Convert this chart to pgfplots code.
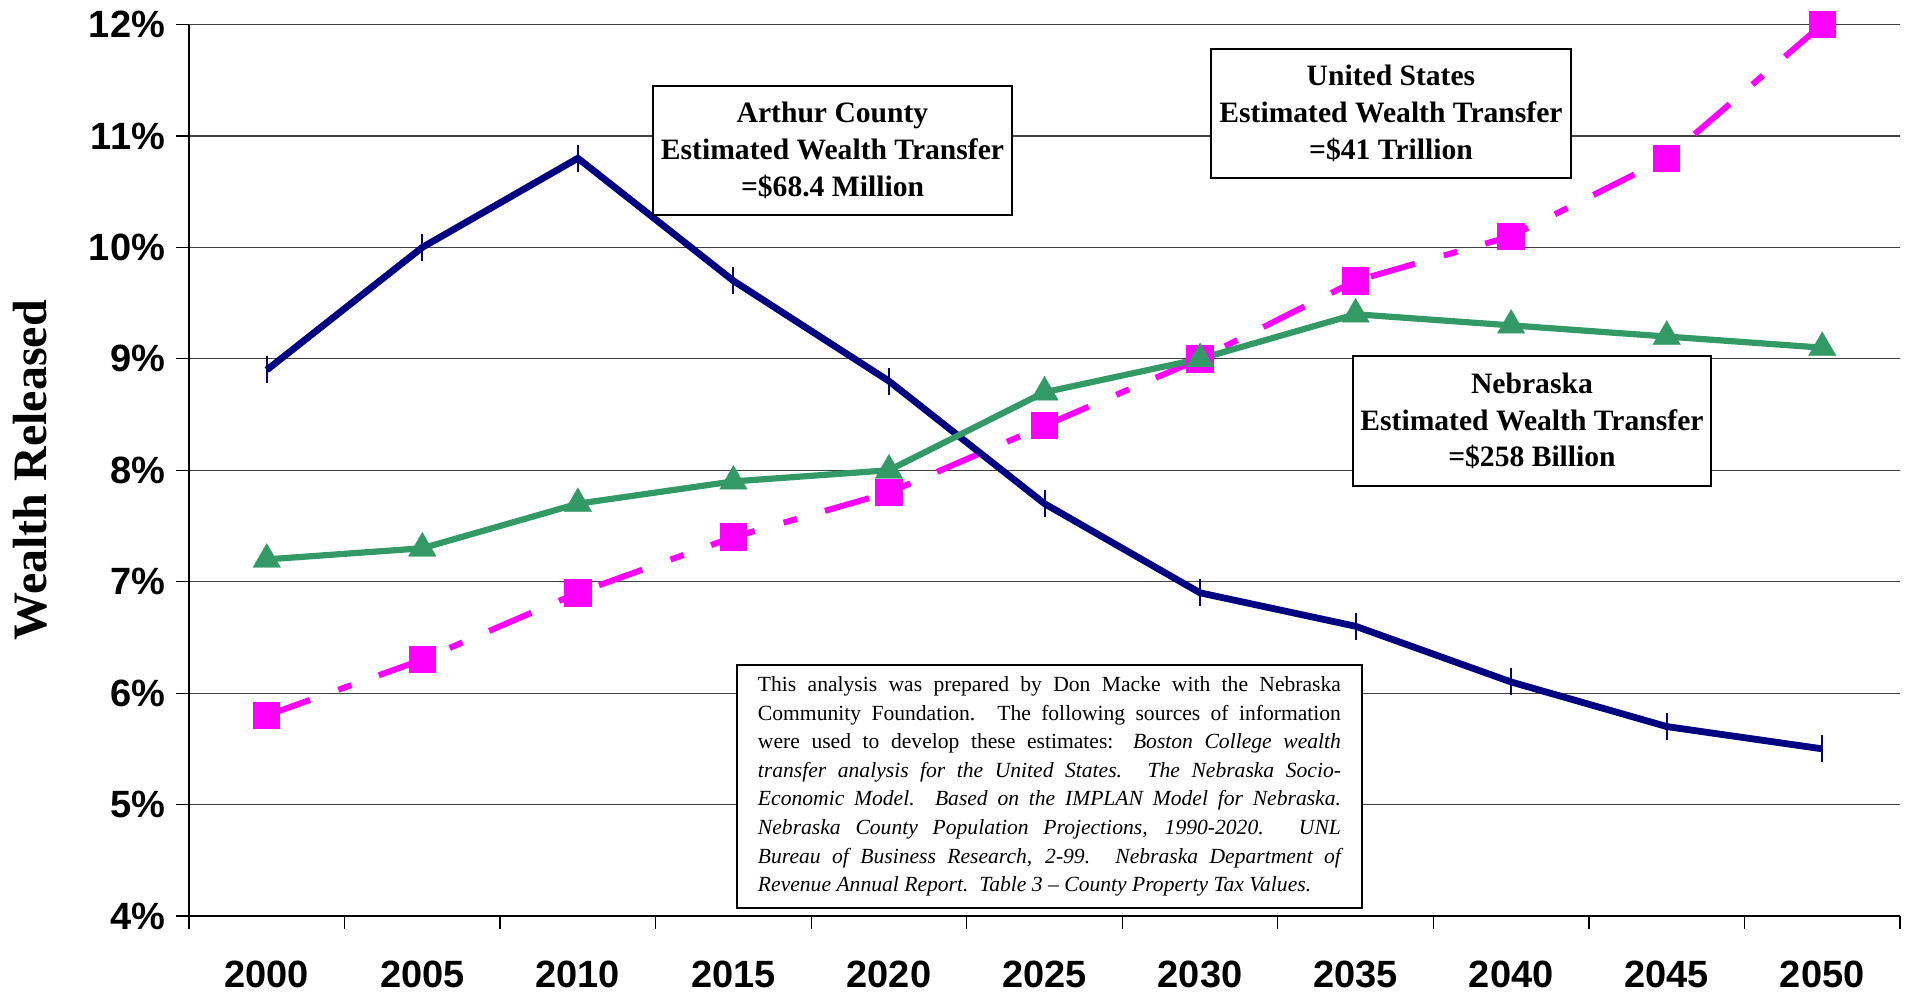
\documentclass[border=0pt]{standalone}
\usepackage{fontspec}
\setmainfont{Liberation Serif}
\newfontfamily\arial{Liberation Sans}
\usepackage{pgfplots}
\pgfplotsset{compat=1.18}
\definecolor{navyline}{RGB}{0,0,128}
\definecolor{pinkline}{RGB}{255,0,255}
\definecolor{greenline}{RGB}{51,153,102}

\begin{document}
\begin{tikzpicture}
\useasboundingbox (-94.5pt,-39.5pt) rectangle (860.5pt,458pt);
\begin{axis}[
  at={(0,0)}, anchor=south west,
  scale only axis, width=855.5pt, height=445.75pt,
  xmin=-0.5, xmax=10.5, ymin=4, ymax=12,
  clip=false,
  axis lines=left,
  axis line style={-, black, line width=0.6pt},
  tick align=outside,
  major tick length=6.5pt,
  tick style={black, line width=0.6pt},
  xtick={-0.5,0.5,1.5,2.5,3.5,4.5,5.5,6.5,7.5,8.5,9.5,10.5},
  xticklabels={},
  extra x ticks={0,1,2,3,4,5,6,7,8,9,10},
  extra x tick labels={2000,2005,2010,2015,2020,2025,2030,2035,2040,2045,2050},
  extra x tick style={major tick length=0pt, tick style={draw=none}, grid=none,
     xticklabel style={yshift=-19pt}},
  ytick={4,5,6,7,8,9,10,11,12},
  yticklabel={\pgfmathprintnumber{\tick}\%},
  yticklabel style={xshift=-2pt},
  /pgf/number format/assume math mode=true,
  ymajorgrids=true,
  grid style={black!75, line width=0.6pt},
  ticklabel style={font=\arial\bfseries\fontsize{19}{22}\selectfont},
  ylabel={Wealth Released},
  ylabel style={at={(axis description cs:-0.0929,0.5)}, anchor=center,
     font=\bfseries\fontsize{24}{28}\selectfont},
]
\addplot[pinkline, line width=3pt, line cap=butt,
  dash pattern=on 23pt off 15pt on 7pt off 14.5pt,
  mark=square*, mark size=6.6pt,
  mark options={solid, fill=pinkline, draw=pinkline, line width=0.5pt}]
  coordinates {(0,5.8) (1,6.3) (2,6.9) (3,7.4) (4,7.8) (5,8.4) (6,9.0) (7,9.7) (8,10.1) (9,10.8) (10,12.0)};
\addplot[navyline, line width=3.4pt, line join=round,
  mark=|, mark size=6.75pt, mark options={solid, line width=1pt}]
  coordinates {(0,8.9) (1,10.0) (2,10.8) (3,9.7) (4,8.8) (5,7.7) (6,6.9) (7,6.6) (8,6.1) (9,5.7) (10,5.5)};
\addplot[greenline, line width=3.1pt, line join=round,
  mark=triangle*, mark size=8pt,
  mark options={solid, fill=greenline, draw=greenline, line width=0.1pt}]
  coordinates {(0,7.2) (1,7.3) (2,7.7) (3,7.9) (4,8.0) (5,8.7) (6,9.0) (7,9.4) (8,9.3) (9,9.2) (10,9.1)};

\node[draw=black, line width=1pt, fill=white, minimum width=179.5pt, minimum height=64.5pt,
  inner sep=0pt, align=center, font=\bfseries\fontsize{14.8}{18.4}\selectfont]
  at (rel axis cs:0.3761,0.8587) {Arthur County\\Estimated Wealth Transfer\\=\$68.4 Million};
\node[draw=black, line width=1pt, fill=white, minimum width=180pt, minimum height=64.5pt,
  inner sep=0pt, align=center, font=\bfseries\fontsize{14.8}{18.4}\selectfont]
  at (rel axis cs:0.7025,0.9002) {United States\\Estimated Wealth Transfer\\=\$41 Trillion};
\node[draw=black, line width=1pt, fill=white, minimum width=179pt, minimum height=65pt,
  inner sep=0pt, align=center, font=\bfseries\fontsize{14.8}{18.4}\selectfont]
  at (rel axis cs:0.7849,0.5552) {Nebraska\\Estimated Wealth Transfer\\=\$258 Billion};
\node[draw=black, line width=1pt, fill=white, minimum width=312.5pt, minimum height=121.5pt,
  inner xsep=10.5pt, inner ysep=0pt, text width=291.5pt, align=justify,
  font=\fontsize{10.8}{14.3}\selectfont]
  at (rel axis cs:0.5029,0.1453) {\tolerance=10000 This analysis was prepared by Don Macke with the Nebraska\linebreak
  Community Foundation.  The following sources of information\linebreak
  were used to develop these estimates: \textit{Boston College wealth\linebreak
  transfer analysis for the United States.  The Nebraska Socio-\linebreak
  Economic Model.  Based on the IMPLAN Model for Nebraska.\linebreak
  Nebraska County Population Projections, 1990-2020.  UNL\linebreak
  Bureau of Business Research, 2-99.  Nebraska Department of\linebreak
  Revenue Annual Report.\ \ Table 3 – County Property Tax Values.}};
\end{axis}
\end{tikzpicture}
\end{document}
